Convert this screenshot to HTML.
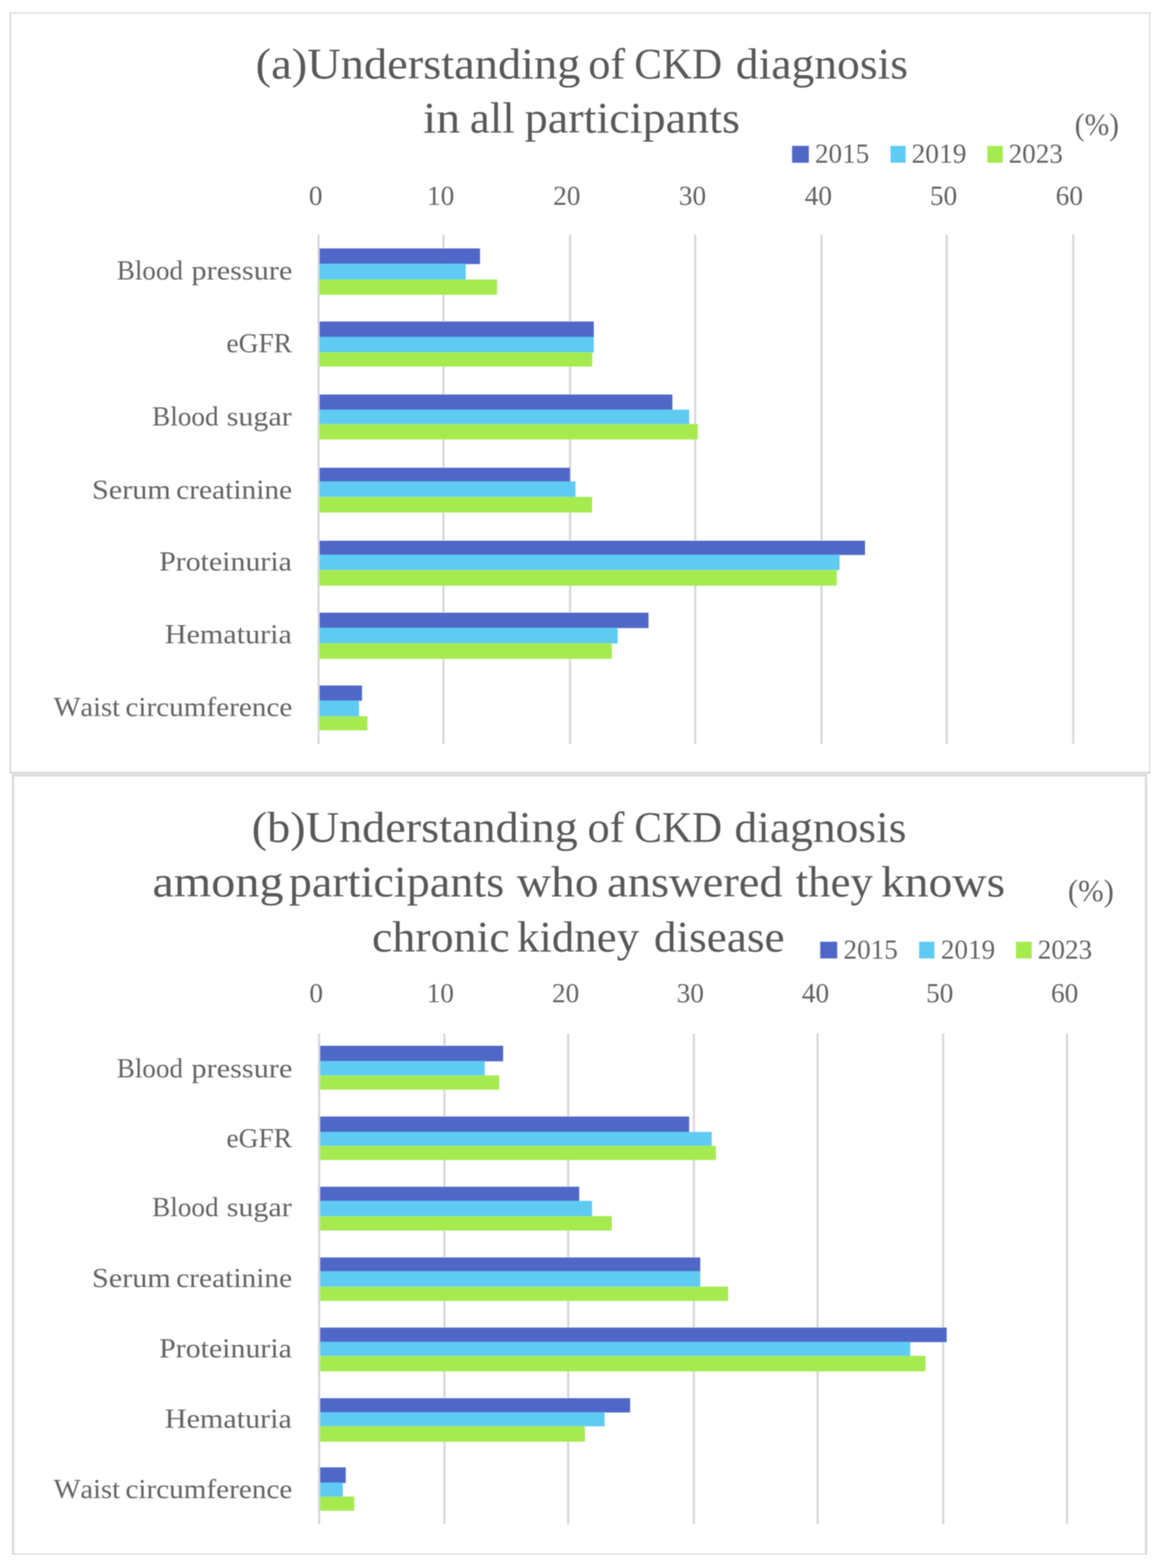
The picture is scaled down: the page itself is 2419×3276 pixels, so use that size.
<!DOCTYPE html>
<html><head><meta charset="utf-8"><title>Understanding of CKD diagnosis</title>
<style>html,body{margin:0;padding:0;background:#fff;overflow:hidden;}svg{display:block;}</style></head>
<body>
<svg width="2419" height="3276" viewBox="0 0 2419 3276">
<defs><filter id="soft" x="0" y="0" width="1" height="1"><feGaussianBlur stdDeviation="1"/></filter></defs>
<rect x="0" y="0" width="2419" height="3276" fill="#ffffff"/>
<g filter="url(#soft)">
<rect x="20.9" y="26.2" width="2381.9" height="1588.3" fill="none" stroke="#d9d9d9" stroke-width="4.3"/>
<rect x="27.25" y="1619.9" width="2366.75" height="1628.1" fill="none" stroke="#d9d9d9" stroke-width="4.7"/>
<g font-family="Liberation Serif, serif" fill="#595959" style="font-kerning:none">
<rect x="663.2" y="490" width="4.4" height="1064.0" fill="#d6d6d6"/>
<rect x="924.2" y="490" width="4.4" height="1064.0" fill="#d6d6d6"/>
<rect x="1188.6" y="490" width="4.4" height="1064.0" fill="#d6d6d6"/>
<rect x="1450.1" y="490" width="4.4" height="1064.0" fill="#d6d6d6"/>
<rect x="1713.9" y="490" width="4.4" height="1064.0" fill="#d6d6d6"/>
<rect x="1975.4" y="490" width="4.4" height="1064.0" fill="#d6d6d6"/>
<rect x="2239.8" y="490" width="4.4" height="1064.0" fill="#d6d6d6"/>
<rect x="667.5" y="519.0" width="335.2" height="32.7" fill="#4f67c8"/>
<rect x="667.5" y="551.1" width="305.5" height="33.4" fill="#5ecbf3"/>
<rect x="667.5" y="583.9" width="370.9" height="31.9" fill="#a5eb4f"/>
<rect x="667.5" y="671.7" width="572.9" height="32.8" fill="#4f67c8"/>
<rect x="667.5" y="703.9" width="572.9" height="32.5" fill="#5ecbf3"/>
<rect x="667.5" y="735.8" width="569.8" height="30.0" fill="#a5eb4f"/>
<rect x="667.5" y="824.2" width="737.1" height="32.3" fill="#4f67c8"/>
<rect x="667.5" y="855.9" width="772.2" height="30.6" fill="#5ecbf3"/>
<rect x="667.5" y="885.9" width="790.1" height="32.2" fill="#a5eb4f"/>
<rect x="667.5" y="977.2" width="523.1" height="29.3" fill="#4f67c8"/>
<rect x="667.5" y="1005.9" width="534.7" height="32.8" fill="#5ecbf3"/>
<rect x="667.5" y="1038.1" width="569.5" height="32.7" fill="#a5eb4f"/>
<rect x="667.5" y="1129.7" width="1139.5" height="29.8" fill="#4f67c8"/>
<rect x="667.5" y="1158.9" width="1086.3" height="32.3" fill="#5ecbf3"/>
<rect x="667.5" y="1190.6" width="1080.5" height="33.2" fill="#a5eb4f"/>
<rect x="667.5" y="1280.1" width="687.2" height="32.1" fill="#4f67c8"/>
<rect x="667.5" y="1311.6" width="622.8" height="32.8" fill="#5ecbf3"/>
<rect x="667.5" y="1343.8" width="610.7" height="32.7" fill="#a5eb4f"/>
<rect x="667.5" y="1432.2" width="88.7" height="32.0" fill="#4f67c8"/>
<rect x="667.5" y="1463.6" width="82.6" height="33.3" fill="#5ecbf3"/>
<rect x="667.5" y="1496.3" width="100.1" height="29.5" fill="#a5eb4f"/>
<text x="645.2" y="428" font-size="57" fill="#646464">0</text>
<text x="892.0" y="428" font-size="57" fill="#646464">10</text>
<text x="1155.6" y="428" font-size="57" fill="#646464">20</text>
<text x="1417.9" y="428" font-size="57" fill="#646464">30</text>
<text x="1681.1" y="428" font-size="57" fill="#646464">40</text>
<text x="1942.4" y="428" font-size="57" fill="#646464">50</text>
<text x="2205.3" y="428" font-size="57" fill="#646464">60</text>
<text x="243.9" y="583.7" font-size="58" textLength="138.4" lengthAdjust="spacingAndGlyphs" fill="#646464">Blood</text>
<text x="400.0" y="583.7" font-size="58" textLength="210.7" lengthAdjust="spacingAndGlyphs" fill="#646464">pressure</text>
<text x="473.1" y="736.4" font-size="58" textLength="137.0" lengthAdjust="spacingAndGlyphs" fill="#646464">eGFR</text>
<text x="317.8" y="889.3" font-size="58" textLength="138.8" lengthAdjust="spacingAndGlyphs" fill="#646464">Blood</text>
<text x="473.7" y="889.3" font-size="58" textLength="135.6" lengthAdjust="spacingAndGlyphs" fill="#646464">sugar</text>
<text x="192.3" y="1042.3" font-size="58" textLength="164.5" lengthAdjust="spacingAndGlyphs" fill="#646464">Serum</text>
<text x="368.1" y="1042.3" font-size="58" textLength="242.1" lengthAdjust="spacingAndGlyphs" fill="#646464">creatinine</text>
<text x="332.4" y="1191.9" font-size="58" textLength="277.3" lengthAdjust="spacingAndGlyphs" fill="#646464">Proteinuria</text>
<text x="344.3" y="1344.4" font-size="58" textLength="265.4" lengthAdjust="spacingAndGlyphs" fill="#646464">Hematuria</text>
<text x="111.9" y="1496.3" font-size="58" textLength="138.9" lengthAdjust="spacingAndGlyphs" fill="#646464">Waist</text>
<text x="262.0" y="1496.3" font-size="58" textLength="348.6" lengthAdjust="spacingAndGlyphs" fill="#646464">circumference</text>
<text x="534.1" y="164.0" font-size="92" textLength="678.4" lengthAdjust="spacingAndGlyphs">(a)Understanding</text>
<text x="1229.0" y="164.0" font-size="92" textLength="76.8" lengthAdjust="spacingAndGlyphs">of</text>
<text x="1325.1" y="164.0" font-size="92" textLength="183.3" lengthAdjust="spacingAndGlyphs">CKD</text>
<text x="1537.1" y="164.0" font-size="92" textLength="359.6" lengthAdjust="spacingAndGlyphs">diagnosis</text>
<text x="883.8" y="277.4" font-size="92" textLength="77.5" lengthAdjust="spacingAndGlyphs">in</text>
<text x="981.6" y="277.4" font-size="92" textLength="93.7" lengthAdjust="spacingAndGlyphs">all</text>
<text x="1096.0" y="277.4" font-size="92" textLength="449.9" lengthAdjust="spacingAndGlyphs">participants</text>
<rect x="1654.6" y="304.8" width="35.0" height="35.2" fill="#4f67c8"/>
<text x="1702.5" y="340.2" font-size="58" textLength="113.4" lengthAdjust="spacingAndGlyphs" fill="#646464">2015</text>
<rect x="1860.3" y="304.8" width="31.4" height="35.2" fill="#5ecbf3"/>
<text x="1904.2" y="340.2" font-size="58" textLength="114.6" lengthAdjust="spacingAndGlyphs" fill="#646464">2019</text>
<rect x="2062.5" y="304.8" width="32.2" height="35.2" fill="#a5eb4f"/>
<text x="2107.1" y="340.2" font-size="58" textLength="113.1" lengthAdjust="spacingAndGlyphs" fill="#646464">2023</text>
<text x="2245.1" y="281.7" font-size="66" textLength="92.5" lengthAdjust="spacingAndGlyphs" fill="#646464">(%)</text>
<rect x="664.4" y="2159.5" width="4.4" height="1025.1" fill="#d6d6d6"/>
<rect x="926.1" y="2159.5" width="4.4" height="1025.1" fill="#d6d6d6"/>
<rect x="1184.7" y="2159.5" width="4.4" height="1025.1" fill="#d6d6d6"/>
<rect x="1447.2" y="2159.5" width="4.4" height="1025.1" fill="#d6d6d6"/>
<rect x="1705.7" y="2159.5" width="4.4" height="1025.1" fill="#d6d6d6"/>
<rect x="1968.0" y="2159.5" width="4.4" height="1025.1" fill="#d6d6d6"/>
<rect x="2226.7" y="2159.5" width="4.4" height="1025.1" fill="#d6d6d6"/>
<rect x="668.7" y="2184.9" width="382.3" height="32.5" fill="#4f67c8"/>
<rect x="668.7" y="2216.8" width="343.8" height="30.6" fill="#5ecbf3"/>
<rect x="668.7" y="2246.8" width="374.1" height="29.8" fill="#a5eb4f"/>
<rect x="668.7" y="2332.7" width="770.9" height="32.8" fill="#4f67c8"/>
<rect x="668.7" y="2364.9" width="818.1" height="29.5" fill="#5ecbf3"/>
<rect x="668.7" y="2393.8" width="826.9" height="29.8" fill="#a5eb4f"/>
<rect x="668.7" y="2479.4" width="541.2" height="30.1" fill="#4f67c8"/>
<rect x="668.7" y="2508.9" width="568.1" height="32.5" fill="#5ecbf3"/>
<rect x="668.7" y="2540.8" width="609.3" height="30.1" fill="#a5eb4f"/>
<rect x="668.7" y="2627.2" width="794.1" height="29.3" fill="#4f67c8"/>
<rect x="668.7" y="2655.9" width="794.1" height="32.8" fill="#5ecbf3"/>
<rect x="668.7" y="2688.1" width="852.4" height="29.8" fill="#a5eb4f"/>
<rect x="668.7" y="2773.7" width="1308.9" height="30.4" fill="#4f67c8"/>
<rect x="668.7" y="2803.5" width="1232.7" height="29.8" fill="#5ecbf3"/>
<rect x="668.7" y="2832.7" width="1264.8" height="32.5" fill="#a5eb4f"/>
<rect x="668.7" y="2921.2" width="647.6" height="29.9" fill="#4f67c8"/>
<rect x="668.7" y="2950.5" width="594.2" height="29.5" fill="#5ecbf3"/>
<rect x="668.7" y="2979.4" width="553.3" height="32.8" fill="#a5eb4f"/>
<rect x="668.7" y="3065.7" width="53.6" height="32.5" fill="#4f67c8"/>
<rect x="668.7" y="3097.6" width="47.5" height="29.6" fill="#5ecbf3"/>
<rect x="668.7" y="3126.6" width="71.3" height="29.7" fill="#a5eb4f"/>
<text x="646.2" y="2094" font-size="57" fill="#646464">0</text>
<text x="891.2" y="2094" font-size="57" fill="#646464">10</text>
<text x="1153.0" y="2094" font-size="57" fill="#646464">20</text>
<text x="1413.5" y="2094" font-size="57" fill="#646464">30</text>
<text x="1674.9" y="2094" font-size="57" fill="#646464">40</text>
<text x="1934.4" y="2094" font-size="57" fill="#646464">50</text>
<text x="2195.5" y="2094" font-size="57" fill="#646464">60</text>
<text x="243.9" y="2250.5" font-size="58" textLength="138.4" lengthAdjust="spacingAndGlyphs" fill="#646464">Blood</text>
<text x="400.0" y="2250.5" font-size="58" textLength="210.7" lengthAdjust="spacingAndGlyphs" fill="#646464">pressure</text>
<text x="473.1" y="2397.0" font-size="58" textLength="137.0" lengthAdjust="spacingAndGlyphs" fill="#646464">eGFR</text>
<text x="317.8" y="2541.0" font-size="58" textLength="138.8" lengthAdjust="spacingAndGlyphs" fill="#646464">Blood</text>
<text x="473.7" y="2541.0" font-size="58" textLength="135.6" lengthAdjust="spacingAndGlyphs" fill="#646464">sugar</text>
<text x="192.3" y="2689.2" font-size="58" textLength="164.5" lengthAdjust="spacingAndGlyphs" fill="#646464">Serum</text>
<text x="368.1" y="2689.2" font-size="58" textLength="242.1" lengthAdjust="spacingAndGlyphs" fill="#646464">creatinine</text>
<text x="332.4" y="2835.9" font-size="58" textLength="277.3" lengthAdjust="spacingAndGlyphs" fill="#646464">Proteinuria</text>
<text x="344.3" y="2983.0" font-size="58" textLength="265.4" lengthAdjust="spacingAndGlyphs" fill="#646464">Hematuria</text>
<text x="111.9" y="3129.8" font-size="58" textLength="138.9" lengthAdjust="spacingAndGlyphs" fill="#646464">Waist</text>
<text x="262.0" y="3129.8" font-size="58" textLength="348.6" lengthAdjust="spacingAndGlyphs" fill="#646464">circumference</text>
<text x="525.8" y="1759.3" font-size="92" textLength="681.3" lengthAdjust="spacingAndGlyphs">(b)Understanding</text>
<text x="1227.2" y="1759.3" font-size="92" textLength="77.2" lengthAdjust="spacingAndGlyphs">of</text>
<text x="1325.1" y="1759.3" font-size="92" textLength="183.2" lengthAdjust="spacingAndGlyphs">CKD</text>
<text x="1534.2" y="1759.3" font-size="92" textLength="359.3" lengthAdjust="spacingAndGlyphs">diagnosis</text>
<text x="318.4" y="1873.1" font-size="92" textLength="274.0" lengthAdjust="spacingAndGlyphs">among</text>
<text x="603.2" y="1873.1" font-size="92" textLength="450.0" lengthAdjust="spacingAndGlyphs">participants</text>
<text x="1079.3" y="1873.1" font-size="92" textLength="171.3" lengthAdjust="spacingAndGlyphs">who</text>
<text x="1268.0" y="1873.1" font-size="92" textLength="367.1" lengthAdjust="spacingAndGlyphs">answered</text>
<text x="1661.9" y="1873.1" font-size="92" textLength="161.7" lengthAdjust="spacingAndGlyphs">they</text>
<text x="1840.5" y="1873.1" font-size="92" textLength="259.0" lengthAdjust="spacingAndGlyphs">knows</text>
<text x="777.0" y="1987.9" font-size="92" textLength="287.9" lengthAdjust="spacingAndGlyphs">chronic</text>
<text x="1079.9" y="1987.9" font-size="92" textLength="255.2" lengthAdjust="spacingAndGlyphs">kidney</text>
<text x="1366.0" y="1987.9" font-size="92" textLength="273.0" lengthAdjust="spacingAndGlyphs">disease</text>
<rect x="1713.4" y="1967.5" width="35.4" height="35.0" fill="#4f67c8"/>
<text x="1762.1" y="2003.0" font-size="58" textLength="113.4" lengthAdjust="spacingAndGlyphs" fill="#646464">2015</text>
<rect x="1920.0" y="1967.5" width="31.9" height="35.0" fill="#5ecbf3"/>
<text x="1965.5" y="2003.0" font-size="58" textLength="113.3" lengthAdjust="spacingAndGlyphs" fill="#646464">2019</text>
<rect x="2122.3" y="1967.5" width="32.9" height="35.0" fill="#a5eb4f"/>
<text x="2167.8" y="2003.0" font-size="58" textLength="113.7" lengthAdjust="spacingAndGlyphs" fill="#646464">2023</text>
<text x="2230.7" y="1883.2" font-size="66" textLength="96.3" lengthAdjust="spacingAndGlyphs" fill="#646464">(%)</text>
</g></g></svg>
</body></html>
